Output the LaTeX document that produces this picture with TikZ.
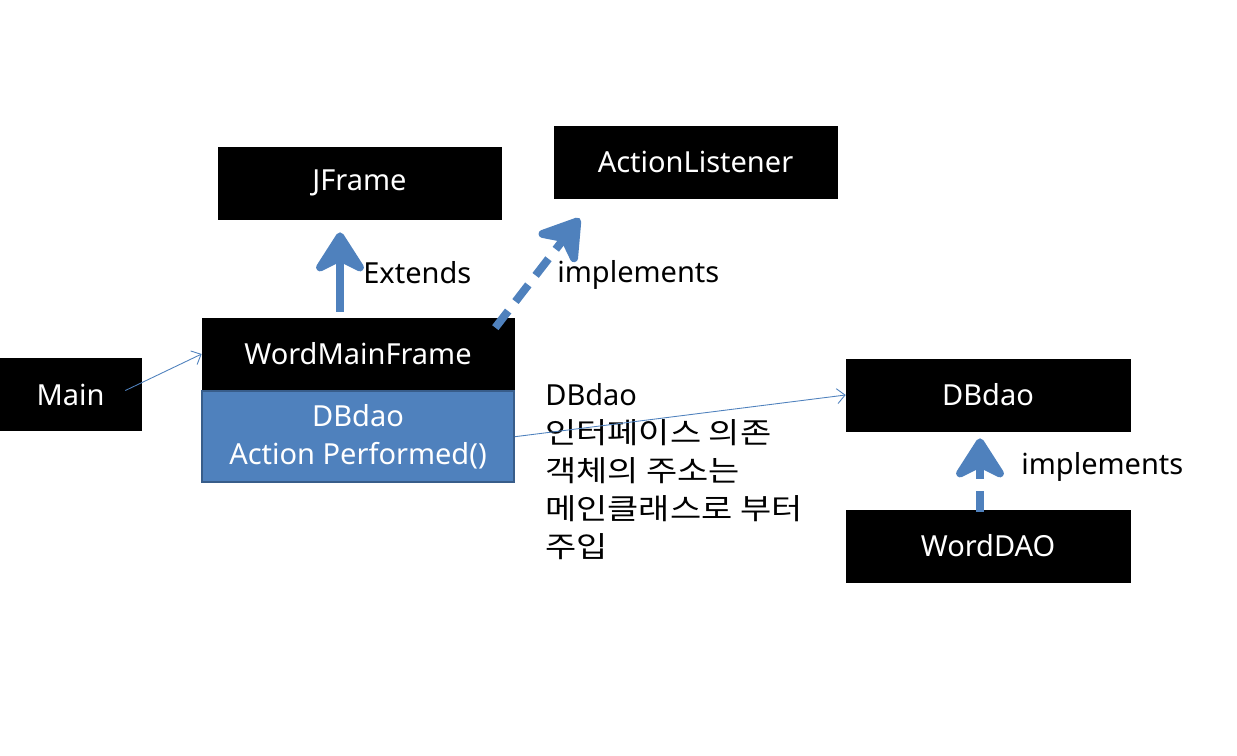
\documentclass[tikz,border=0pt]{standalone}
\usepackage{fontspec}
\setmainfont{Noto Sans}
\newfontfamily\kr[FakeStretch=1.17]{Noto Sans CJK KR}
\usetikzlibrary{arrows.meta,positioning}
\definecolor{ppblue}{RGB}{79,129,189}
\definecolor{ppedge}{RGB}{56,93,138}
\tikzset{
  klasse/.style={draw=black,fill=black,text=white,inner sep=0pt,minimum height=1.44cm},
  fatarrow/.style={ppblue,line width=0.16cm,-{Stealth[round,length=0.96cm,width=1.22cm,inset=0.3cm]}},
  thinarrow/.style={ppblue,line width=0.5pt,-{Straight Barb[length=0.16cm,width=0.3cm]}},
  dashdash/.style={dash pattern=on 0.42cm off 0.24cm}
}
\begin{document}
\begin{tikzpicture}[x=0.02cm,y=-0.02cm,font=\fontsize{16.5}{21}\selectfont]%
        \useasboundingbox (0,0) rectangle (1237,756);%%
        \begin{scope}
        \tikzstyle{every node}=[klasse] %%
        \node[minimum width=5.66cm] (jframe) at (359.5,183)  {JFrame}; %%
        \node[minimum width=5.66cm] (alist) at (695.5,162)  {ActionListener}; %%
        \node[minimum width=6.24cm] (wmf) at (358,354)  {WordMainFrame}; %%
        \node[minimum width=2.82cm] (main) at (70.5,394.5)  {Main}; %%
        \node[minimum width=5.68cm] (dbdao) at (988,395)  {DBdao}; %%
        \node[minimum width=5.68cm] (worddao) at (988,546)  {WordDAO}; %%
        \end{scope}
        \node[draw=ppedge,fill=ppblue,text=white,line width=1pt,minimum width=6.24cm,
              minimum height=1.82cm,align=center,inner sep=0pt,anchor=north,
              font=\fontsize{16.5}{21.5}\selectfont] (members) at (wmf.south)  {DBdao\\Action Performed()}; %%
        \begin{scope}
        \tikzstyle{every node}=[inner sep=0pt,anchor=west] %%
        \node (lext) at (363,273)  {Extends}; %%
        \node (limpl) at (557,275)  {implements}; %%
        \node (limpr) at (1021,467)  {implements}; %%
        \node[anchor=north west,align=left,font=\fontsize{16.5}{21.6}\selectfont] (note) at (545,383)
              {DBdao\\{\kr 인터페이스 의존}\\{\kr 객체의 주소는}\\{\kr 메인클래스로 부터}\\{\kr 주입}}; %%
        \end{scope}
\draw[fatarrow] ([shift={(-18,-6)}]wmf.north)--([shift={(-19.5,13)}]jframe.south);  %%
\draw[fatarrow,dashdash] ([shift={(-19,10)}]wmf.north east)--([shift={(26,20)}]alist.south west);  %%
\draw[fatarrow,dashdash] ([shift={(-8,2)}]worddao.north)--([shift={(-8,7)}]dbdao.south);  %%
\draw[thinarrow] ([shift={(-16,-4)}]main.east)--(wmf.west);  %%
\draw[thinarrow] (members.east)--(dbdao.west);  %%
\end{tikzpicture}
\end{document}
